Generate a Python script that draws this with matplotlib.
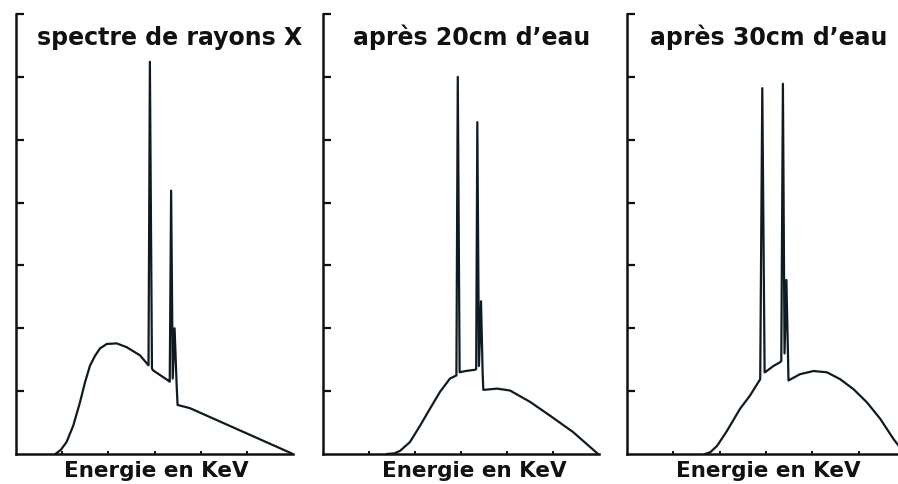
import matplotlib
matplotlib.use("Agg")
import matplotlib.pyplot as plt

# ---- data (energy in keV, intensity in arbitrary units) ----
titles = ["spectre de rayons X", "après 20cm d’eau", "après 30cm d’eau"]
xlabel = "Energie en KeV"

energy_0 = [17.1, 19.5, 21.9, 24.8, 27.7, 29.9, 32.0, 34.2, 36.4, 39.3, 43.6, 47.9,
            53.7, 57.4, 58.0, 58.9, 59.4, 65.9, 66.6, 67.2, 67.9, 68.7, 69.6, 70.0,
            75.3, 120.0]
counts_0 = [0.0, 0.07, 0.19, 0.45, 0.82, 1.14, 1.40, 1.56, 1.68, 1.75, 1.76, 1.70,
            1.57, 1.41, 6.24, 1.36, 1.33, 1.17, 1.15, 4.19, 1.20, 2.00, 1.09, 0.78,
            0.73, 0.0]

energy_1 = [27.8, 31.0, 33.5, 37.8, 42.2, 46.5, 50.9, 55.2, 58.0, 58.6, 59.4, 62.0,
            66.1, 66.6, 67.1, 67.8, 68.7, 69.4, 69.7, 75.7, 81.3, 90.0, 98.7, 108.7,
            119.6]
counts_1 = [0.0, 0.01, 0.05, 0.19, 0.45, 0.72, 0.99, 1.20, 1.25, 6.00, 1.30, 1.32,
            1.34, 1.35, 5.28, 1.40, 2.43, 1.30, 1.02, 1.04, 1.01, 0.83, 0.61, 0.35,
            0.0]

energy_2 = [33.7, 36.0, 38.9, 43.2, 48.8, 53.1, 57.5, 58.4, 59.4, 59.6, 63.2, 66.1,
            66.6, 67.3, 68.0, 68.8, 69.5, 69.7, 74.7, 80.5, 86.3, 92.0, 97.8, 103.6,
            109.3, 115.0, 120.0]
counts_2 = [0.0, 0.03, 0.13, 0.37, 0.72, 0.93, 1.19, 5.82, 1.30, 1.30, 1.40, 1.46,
            1.48, 5.89, 1.60, 2.77, 1.55, 1.17, 1.27, 1.32, 1.30, 1.19, 1.03, 0.82,
            0.56, 0.24, 0.0]

energies = [energy_0, energy_1, energy_2]
counts = [counts_0, counts_1, counts_2]
x_ticks = [20, 40, 60, 80, 100]
y_ticks = [1, 2, 3, 4, 5, 6, 7]

# ---- layout ----
W, H = 898, 485
fig = plt.figure(figsize=(W / 100, H / 100), dpi=100)
fig.patch.set_facecolor("white")

# pixel boxes: left, right, top, bottom
boxes = [(16, 293, 15, 455), (323, 599, 15, 455), (627, 905, 15, 455)]
title_x = [37, 353, 650]
label_cx = [156, 474, 768]
line_col = "#0f1b22"
font = "DejaVu Sans"

for i, (l, r, t, b) in enumerate(boxes):
    ax = fig.add_axes([l / W, 1 - b / H, (r - l) / W, (b - t) / H])
    ax.plot(energies[i], counts[i], color=line_col, lw=1.6, solid_joinstyle="round")
    ax.set_xlim(0, 120)
    ax.set_ylim(0, 7)
    for s in ["top", "right"]:
        ax.spines[s].set_visible(False)
    for s in ["left", "bottom"]:
        ax.spines[s].set_linewidth(1.8)
        ax.spines[s].set_color("#111111")
    ax.set_xticks(x_ticks)
    ax.set_yticks(y_ticks)
    ax.tick_params(axis="y", direction="in", length=6, width=1.6, color="#111111",
                   labelleft=False)
    ax.tick_params(axis="x", direction="in", length=2.5, width=1.4, color="#111111",
                   labelbottom=False)
    ax.set_facecolor("none")
    ax.patch.set_alpha(0)
    fig.text(title_x[i] / W, 1 - 45 / H, titles[i], ha="left", va="baseline",
             fontsize=17, fontweight="bold", family=font, color="#111111")
    fig.text(label_cx[i] / W, 1 - 477 / H, xlabel, ha="center", va="baseline",
             fontsize=15.5, fontweight="bold", family=font, color="#111111")

fig.savefig("out.png", dpi=100, facecolor="white")
